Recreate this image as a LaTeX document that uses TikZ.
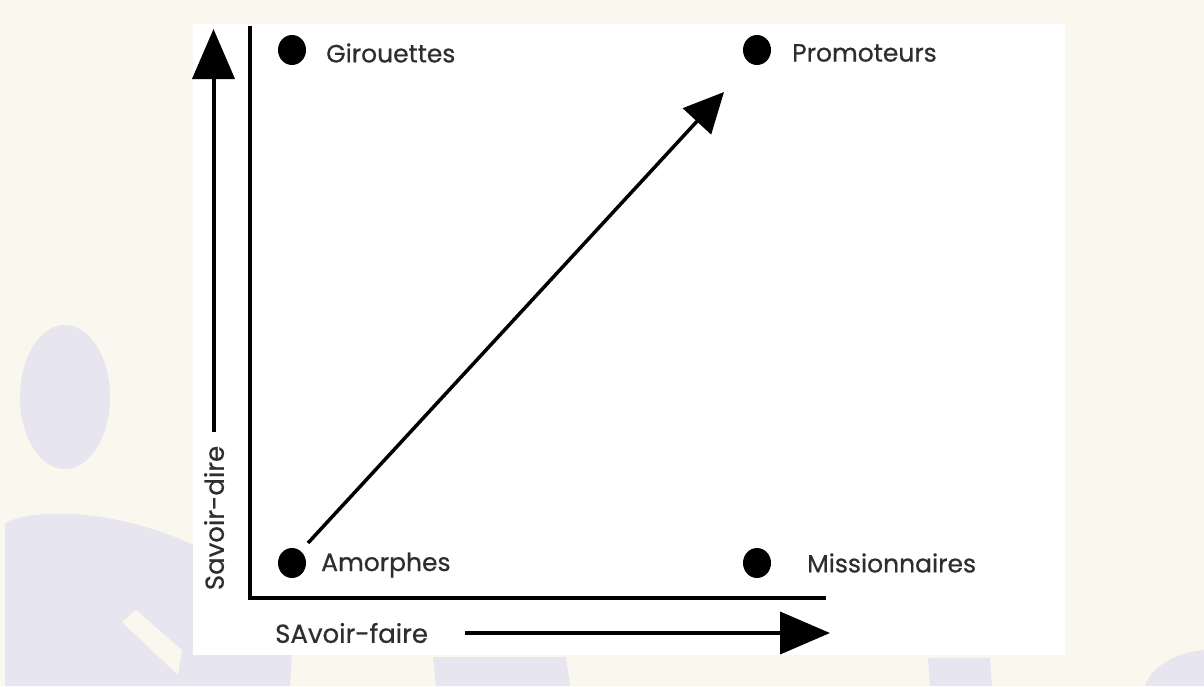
\documentclass[tikz,border=0pt]{standalone}
\usepackage{fontspec}
\setmainfont{Poppins}
\newfontfamily\lblfont{Poppins}[FakeBold=0.6]
\usetikzlibrary{arrows.meta,shapes.geometric}
\definecolor{cream}{HTML}{FAF7EE}
\definecolor{lav}{HTML}{E6E5F0}
\definecolor{ink}{HTML}{2E2E2E}
\begin{document}
\begin{tikzpicture}[x=1pt,y=-1pt,
  axisline/.style={line width=3.5pt, black},
  dot/.style={ellipse, fill=black, minimum width=28pt, minimum height=30pt, inner sep=0pt},
  lbl/.style={anchor=west, inner sep=0pt, text=ink, font=\lblfont\fontsize{25}{25}\selectfont},
  axlbl/.style={inner sep=0pt, text=ink, font=\lblfont\fontsize{26}{26}\selectfont},
  bigarrow/.style={line width=4pt, black, -{Triangle[length=50pt,width=42pt]}},
  diagarrow/.style={line width=3.5pt, black, -{Triangle[length=40pt,width=38pt]}}
]
\useasboundingbox (0,0) rectangle (1204,686);
% background
\fill[cream] (0,0) rectangle (1204,686);
\fill[lav] (65,397) ellipse [x radius=45, y radius=72];
\fill[lav] (5,523) .. controls (30,510) and (110,505) .. (200,548) -- (200,655) -- (292,655) -- (290,686) -- (5,686) -- cycle;
\fill[cream] (122,622) -- (136,610) -- (182,650) -- (178,675) -- cycle;
\fill[lav] (433,657) -- (566,657) -- (570,686) -- (436,686) -- cycle;
\fill[lav] (928,658) -- (990,658) -- (992,686) -- (930,686) -- cycle;
\fill[lav] (1145,686) .. controls (1152,664) and (1180,652) .. (1204,650) -- (1204,686) -- cycle;
% white card
\fill[white] (193,24) rectangle (1065,655);
% axes
\coordinate (ytop) at (250,26);
\coordinate (origin) at (250,598);
\coordinate (xend) at (826,598);
\draw[axisline] (ytop) -- (origin) -- (xend);
% up arrow
\coordinate (ua0) at (213.5,432);
\coordinate (ua1) at (213.5,29);
\draw[bigarrow] (ua0) -- (ua1);
\node[axlbl, rotate=90] (sd) at (214,518) {Savoir-dire};
% right arrow
\coordinate (ra0) at (465,633);
\coordinate (ra1) at (830,633);
\draw[bigarrow] (ra0) -- (ra1);
\node[axlbl, anchor=west] (sf) at (275,633) {SAvoir-faire};
% dots
\node[dot] (g) at (292,50) {};
\node[dot] (p) at (757,50) {};
\node[dot] (a) at (292,563) {};
\node[dot] (m) at (757,563) {};
\node[lbl] (gl) at (326,53) {Girouettes};
\node[lbl] (pl) at (792,53) {Promoteurs};
\node[lbl] (al) at (321,565) {Amorphes};
\node[lbl] (ml) at (807,563) {Missionnaires};
% diagonal arrow
\coordinate (d0) at (308,543);
\coordinate (d1) at (724,92);
\draw[diagarrow] (d0) -- (d1);
\end{tikzpicture}
\end{document}
